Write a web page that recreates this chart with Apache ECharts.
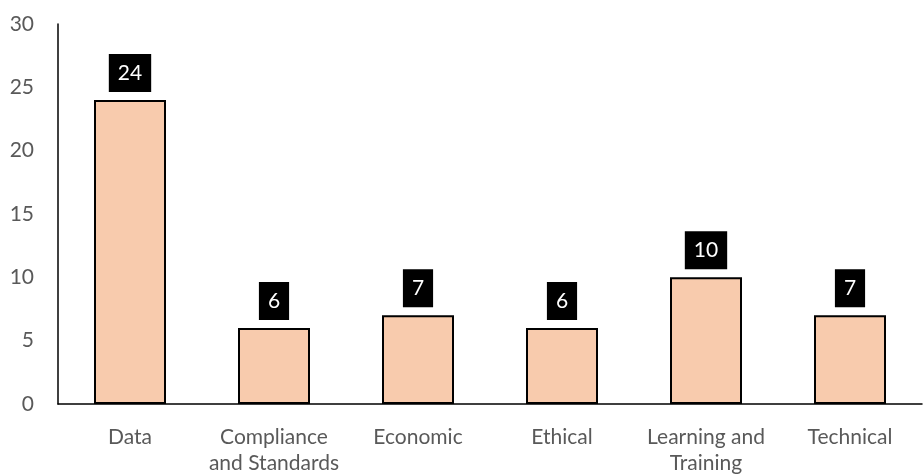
<!DOCTYPE html>
<html><head><meta charset="utf-8">
<script src="https://cdn.jsdelivr.net/npm/echarts@6/dist/echarts.min.js"></script>
<style>html,body{margin:0;padding:0;background:#fff}#c{width:923px;height:476px}</style>
</head><body><div id="c"></div>
<script>
var categories = ["Data", "Compliance\nand Standards", "Economic", "Ethical", "Learning and\nTraining", "Technical"];
var values = [24, 6, 7, 6, 10, 7];
var yTicks = [0, 5, 10, 15, 20, 25, 30];

var chart = echarts.init(document.getElementById('c'));
chart.setOption({
  animation: false,
  grid: {left: 58, right: 1, top: 24, bottom: 71, containLabel: false},
  xAxis: {
    type: 'category', data: categories,
    axisLine: {lineStyle: {color: '#000', width: 1.5}},
    axisTick: {show: false},
    axisLabel: {color: '#595959', fontSize: 21, fontFamily: 'Lato', margin: 20, lineHeight: 26, interval: 0}
  },
  yAxis: {
    type: 'value', min: yTicks[0], max: yTicks[yTicks.length-1], interval: 5,
    axisLine: {show: true, lineStyle: {color: '#000', width: 1.5}},
    axisTick: {show: false},
    splitLine: {show: false},
    axisLabel: {color: '#595959', fontSize: 21, fontFamily: 'Lato', margin: 24}
  },
  series: [{
    type: 'bar', data: values, barWidth: '50%',
    itemStyle: {color: '#F8CBAD', borderColor: '#000', borderWidth: 2},
    label: {
      show: true, position: 'top', distance: 8,
      color: '#fff', backgroundColor: '#000', fontSize: 21, fontFamily: 'Lato',
      padding: [8, 9, 8, 9], lineHeight: 22
    }
  }]
});
</script></body></html>
